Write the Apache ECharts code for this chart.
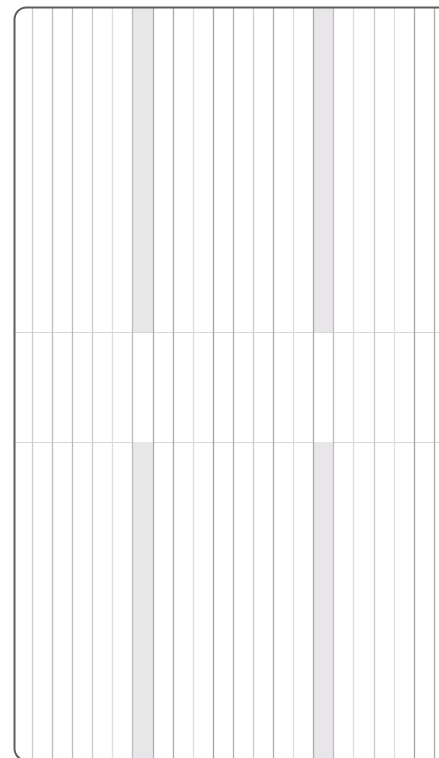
<!DOCTYPE html>
<html>
<head>
<meta charset="utf-8">
<script src="https://cdn.jsdelivr.net/npm/echarts@6/dist/echarts.min.js"></script>
<style>
  html,body{margin:0;padding:0;background:#fff;}
  #chart{width:439px;height:758px;}
</style>
</head>
<body>
<div id="chart"></div>
<script>
// columns of the planner sheet
const columns = ['1','2','3','4','5','6','7','8','9','10','11','12','13','14','15','16','17','18','19','20','21','22'];
// shaded columns in the upper and lower blocks (1 = shaded)
const shadeTop = [0,0,0,0,0,0,1,0,0,0,0,0,0,0,0,1,0,0,0,0,0,0];
const shadeBottom = [0,0,0,0,0,0,1,0,0,0,0,0,0,0,0,1,0,0,0,0,0,0];
// grey tone of each ruled line, left to right
const lineTones = ['rgba(0,0,0,0)','#cbcbcb','#bdbdbd','#bdbdbd','#cbcbcb','#dedede','#bcbcbc','#ababab',
  '#ababab','#dcdcdc','#a4a4a4','#b0b0b0','#cccccc','#adadad','#dcdcdc','#ababab','#bdbdbd','#dcdcdc',
  '#cacaca','#e0e0e0','#a4a4a4','#aaaaaa','#aaaaaa'];
// the two rules that cut off the middle block
const middleRules = [0, 1];

const chart = echarts.init(document.getElementById('chart'));

const left = 12.2, width = 442;
const grids = [
  {left: left, width: width, top: 8, height: 324, outerBoundsMode: 'none'},
  {left: left, width: width, top: 332, height: 110, outerBoundsMode: 'none'},
  {left: left, width: width, top: 442, height: 320, outerBoundsMode: 'none'}
];

function xAxisFor(i){
  return {
    type: 'category', gridIndex: i, data: columns, boundaryGap: true, z: 3,
    axisLine: {show: false}, axisTick: {show: false}, axisLabel: {show: false},
    splitLine: {show: true, interval: 0, lineStyle: {color: lineTones, width: 1.3}}
  };
}
function yAxisFor(i){
  return {type: 'value', gridIndex: i, min: 0, max: 1, interval: 1,
    axisLine: {show: false}, axisTick: {show: false}, axisLabel: {show: false},
    splitLine: {show: i === 1, lineStyle: {color: '#d6d6d6', width: 1}}};
}

let option = {
  animation: false,
  backgroundColor: '#fff',
  grid: grids,
  xAxis: [xAxisFor(0), xAxisFor(1), xAxisFor(2)],
  yAxis: [yAxisFor(0), yAxisFor(1), yAxisFor(2)],
  series: [
    {type: 'bar', xAxisIndex: 0, yAxisIndex: 0, data: shadeTop, barWidth: '100%', z: 1,
      itemStyle: {color: '#e8e6e9'}, silent: true},
    {type: 'bar', xAxisIndex: 2, yAxisIndex: 2, data: shadeBottom, barWidth: '100%', z: 1,
      itemStyle: {color: '#e8e6e9'}, silent: true},
    // invisible carrier so the middle block's rules get drawn
    {type: 'line', xAxisIndex: 1, yAxisIndex: 1, data: [], silent: true}
  ],
  graphic: [
    // paper margin left of the outline
    {type: 'rect', z: 99, silent: true,
      shape: {x: 0, y: 0, width: 14, height: 758},
      style: {fill: '#fff'}},
    // the sheet's rounded outline
    {type: 'rect', z: 100, silent: true,
      shape: {x: 14.5, y: 7.5, width: 600, height: 753, r: 12},
      style: {fill: 'rgba(0,0,0,0)', stroke: '#5e5e5e', lineWidth: 2}}
  ]
};

chart.setOption(option);
</script>
</body>
</html>
